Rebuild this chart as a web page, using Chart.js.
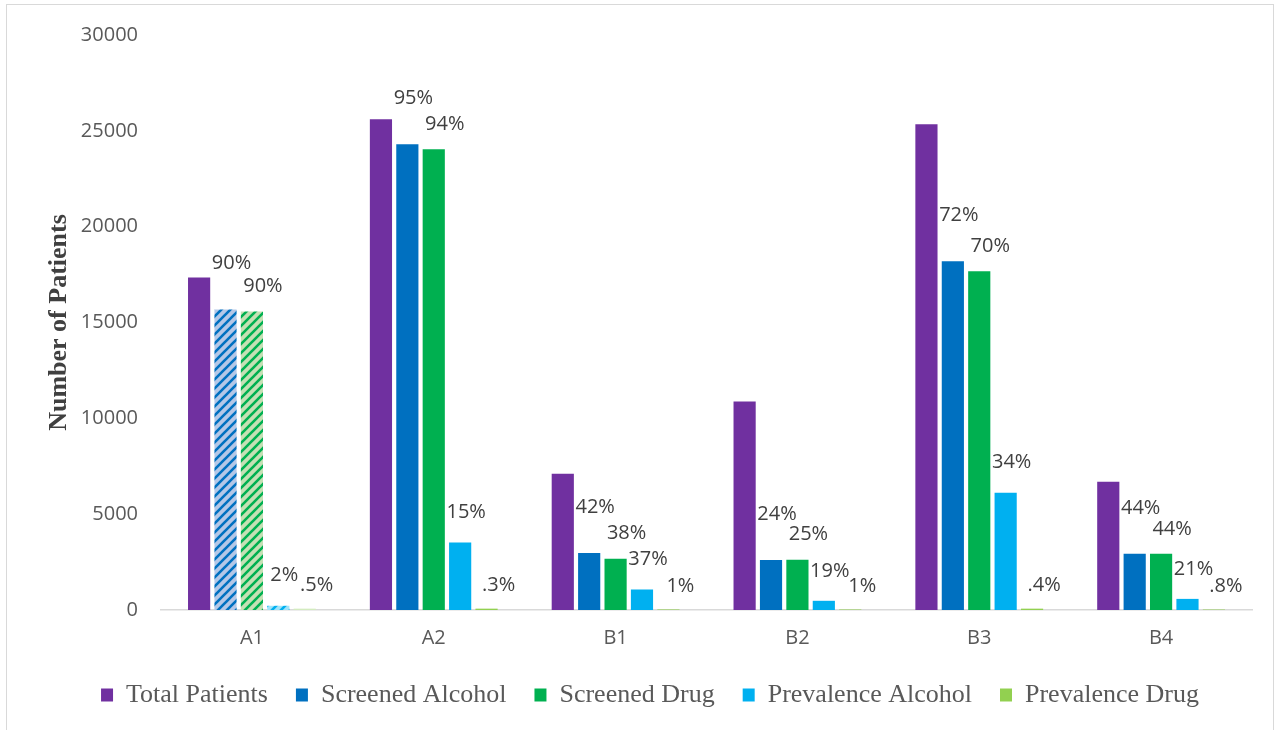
<!DOCTYPE html>
<html>
<head>
<meta charset="utf-8">
<script src="https://cdn.jsdelivr.net/npm/chart.js@4.4.0/dist/chart.umd.min.js"></script>
<style>
  html, body { margin: 0; padding: 0; background: #ffffff; }
  #wrap { position: relative; width: 1281px; height: 730px; overflow: hidden; }
  #frame { position: absolute; left: 6px; top: 4px; width: 1268px; height: 740px; border: 1px solid #D9D9D9; box-sizing: border-box; pointer-events: none; }
  canvas { position: absolute; left: 0; top: 0; }
</style>
</head>
<body>
<div id="wrap">
  <canvas id="c" width="1281" height="730"></canvas>
  <div id="frame"></div>
</div>
<script>
// ---- Data ----
const categories = ['A1', 'A2', 'B1', 'B2', 'B3', 'B4'];
const totalPatients   = [17350, 25610, 7110, 10880, 25350, 6690];
const screenedAlcohol = [15680, 24300, 2980, 2610, 18190, 2930];
const screenedDrug    = [15580, 24040, 2680, 2620, 17670, 2930];
const prevAlcohol     = [220, 3520, 1070, 480, 6120, 580];
const prevDrug        = [70, 70, 28, 26, 70, 23];
const alcPct      = ['90%', '95%', '42%', '24%', '72%', '44%'];
const drugPct     = ['90%', '94%', '38%', '25%', '70%', '44%'];
const prevAlcPct  = ['2%', '15%', '37%', '19%', '34%', '21%'];
const prevDrugPct = ['.5%', '.3%', '1%', '1%', '.4%', '.8%'];
const yTicks = [0, 5000, 10000, 15000, 20000, 25000, 30000];

// ---- Styles ----
function hatch(bg, fg) {
  const n = 9;
  const p = document.createElement('canvas');
  p.width = n; p.height = n;
  const g = p.getContext('2d');
  g.fillStyle = bg; g.fillRect(0, 0, n, n);
  g.strokeStyle = fg; g.lineWidth = 2.6; g.lineCap = 'square';
  g.beginPath();
  g.moveTo(0, n); g.lineTo(n, 0);
  g.moveTo(-2, 2); g.lineTo(2, -2);
  g.moveTo(n - 2, n + 2); g.lineTo(n + 2, n - 2);
  g.stroke();
  return g.createPattern(p, 'repeat');
}
const ctx = document.getElementById('c').getContext('2d');
const C = { purple: '#7030A0', blue: '#0070C0', green: '#00B050', cyan: '#00B0F0', lgreen: '#92D050' };
function colors(base, firstFill) {
  return categories.map((_, i) => i === 0 ? firstFill : base);
}

const labelPlugin = {
  id: 'pctLabels',
  afterLayout(chart) {
    if (chart.legend) { chart.legend.left += 24; chart.legend.right += 24; }
  },
  afterDatasetsDraw(chart) {
    const c = chart.ctx;
    c.save();
    c.font = '20px "Open Sans"';
    c.fillStyle = '#404040';
    c.textAlign = 'center';
    c.textBaseline = 'middle';
    chart.data.datasets.forEach((ds, di) => {
      if (!ds.pct) return;
      const meta = chart.getDatasetMeta(di);
      meta.data.forEach((el, i) => {
        c.fillText(ds.pct[i], el.x + ds.lblDx, el.y + ds.lblDy);
      });
    });
    c.restore();
  }
};

new Chart(ctx, {
  type: 'bar',
  data: {
    labels: categories,
    datasets: [
      { label: 'Total Patients', data: totalPatients, backgroundColor: C.purple, legendColor: C.purple },
      { label: 'Screened Alcohol', data: screenedAlcohol, backgroundColor: colors(C.blue, hatch('#B4C7E7', C.blue)), legendColor: C.blue, pct: alcPct, lblDx: 6, lblDy: -46 },
      { label: 'Screened Drug', data: screenedDrug, backgroundColor: colors(C.green, hatch('#C5E0B4', C.green)), legendColor: C.green, pct: drugPct, lblDx: 11, lblDy: -25 },
      { label: 'Prevalence Alcohol', data: prevAlcohol, backgroundColor: colors(C.cyan, hatch('#9FE3F9', C.cyan)), legendColor: C.cyan, pct: prevAlcPct, lblDx: 6, lblDy: -30 },
      { label: 'Prevalence Drug', data: prevDrug, backgroundColor: colors(C.lgreen, '#D3EBBF'), legendColor: C.lgreen, pct: prevDrugPct, lblDx: 12, lblDy: -23 }
    ]
  },
  options: {
    responsive: false,
    animation: false,
    devicePixelRatio: 1,
    layout: { padding: { top: 35, right: 29, left: 0, bottom: 12 } },
    datasets: { bar: { categoryPercentage: 0.726, barPercentage: 0.84 } },
    scales: {
      x: {
        grid: { display: false },
        border: { display: true, color: '#D9D9D9', width: 1.5 },
        ticks: { color: '#595959', font: { family: 'Open Sans', size: 20 }, padding: 8 },
        afterFit(s) { s.height = s.height - 4; }
      },
      y: {
        min: 0, max: 30000,
        afterBuildTicks(s) { s.ticks = yTicks.map(v => ({ value: v })); },
        afterFit(s) { s.width = 161; },
        grid: { display: false, drawTicks: false },
        border: { display: false },
        ticks: { color: '#595959', font: { family: 'Open Sans', size: 20 }, padding: 23, callback: v => String(v) },
        title: { display: true, text: 'Number of Patients', color: '#404040', font: { family: 'Liberation Serif', size: 26, weight: 'bold' }, padding: { top: 44, bottom: 0 } }
      }
    },
    plugins: {
      legend: {
        position: 'bottom',
        labels: {
          color: '#595959', font: { family: 'Liberation Serif', size: 26 }, boxWidth: 12, boxHeight: 13, padding: 28,
          generateLabels(chart) {
            return chart.data.datasets.map((ds, i) => ({
              text: ds.label, fillStyle: ds.legendColor, strokeStyle: ds.legendColor, lineWidth: 0,
              hidden: !chart.isDatasetVisible(i), datasetIndex: i, fontColor: '#595959'
            }));
          }
        }
      },
      tooltip: { enabled: false }
    }
  },
  plugins: [labelPlugin]
});
</script>
</body>
</html>
